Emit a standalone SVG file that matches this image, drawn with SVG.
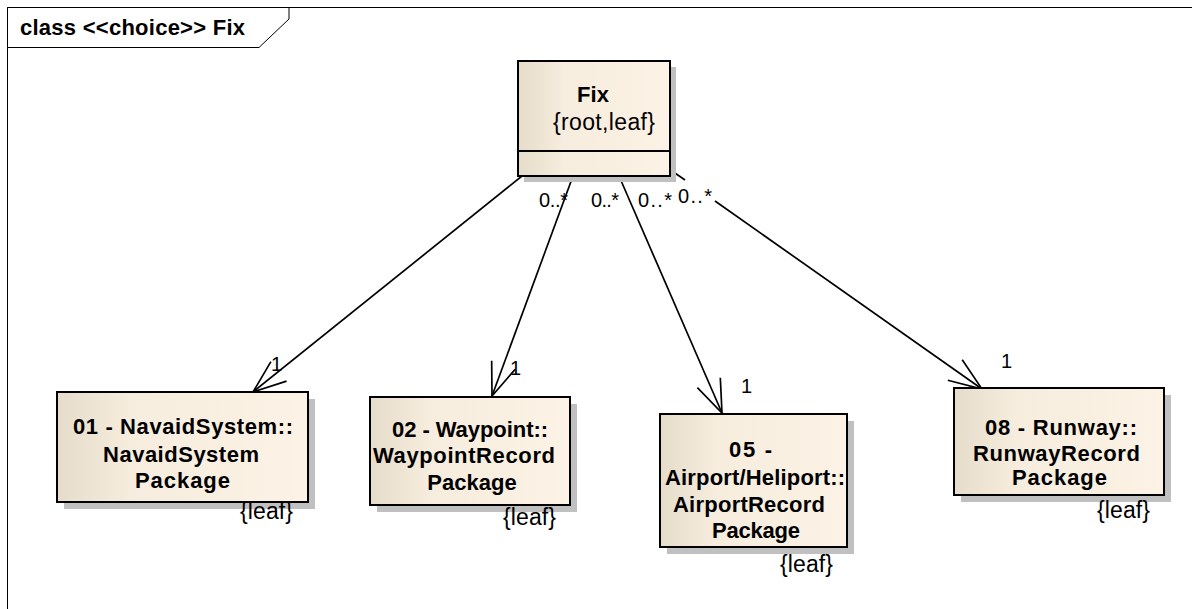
<svg xmlns="http://www.w3.org/2000/svg" width="1192" height="609" viewBox="0 0 1192 609">
  <defs>
    <linearGradient id="classFill" x1="0" y1="0" x2="1" y2="0">
      <stop offset="0" stop-color="#E6DCCA"/>
      <stop offset="0.3" stop-color="#F6EDDE"/>
      <stop offset="1" stop-color="#FCF2E5"/>
    </linearGradient>
    <marker id="openArrow" markerUnits="userSpaceOnUse" orient="auto" refX="0" refY="0"
            viewBox="-40 -20 45 40" markerWidth="45" markerHeight="40" overflow="visible">
      <path d="M-33,-12.5 L0,0 L-33,12.5" fill="none" stroke="#000" stroke-width="1.7"/>
    </marker>
  </defs>
  <style>
    .frame { fill: none; stroke: #000; stroke-width: 1; }
    .tab { fill: #fff; stroke: #000; stroke-width: 1; }
    .shadow { fill: #C0C0C0; }
    .box { fill: url(#classFill); stroke: #000; stroke-width: 2; }
    .divider { stroke: #000; stroke-width: 2; }
    .title { font: bold 22px "Liberation Sans", Arial, sans-serif; fill: #000; }
    .name { font: bold 22px "Liberation Sans", Arial, sans-serif; text-anchor: middle; fill: #000; }
    .tag { font: 23px "Liberation Sans", Arial, sans-serif; fill: #000; }
    .mult { font: 20px "Liberation Sans", Arial, sans-serif; fill: #000; }
    .edge { fill: none; stroke: #000; stroke-width: 1.7; }
    .arrow { marker-end: url(#openArrow); }
  </style>

  <rect x="0" y="0" width="1192" height="609" fill="#fff"/>

  <!-- diagram frame and name tab -->
  <g id="frame">
    <rect class="frame" x="7.5" y="7.5" width="1200" height="620"/>
    <path class="tab" d="M7.5,7.5 H289 V19 L259,47.5 H7.5 Z"/>
    <text class="title" x="20" y="35" textLength="225" lengthAdjust="spacing">class &lt;&lt;choice&gt;&gt; Fix</text>
  </g>

  <!-- associations from Fix -->
  <g id="connectors">
    <path class="edge arrow" d="M522,176 L253,392"/>
    <path class="edge arrow" d="M573,176 L492,396"/>
    <path class="edge arrow" d="M619,176 L722,413"/>
    <path class="edge" d="M672,171 L685,180"/>
    <path class="edge arrow" d="M715,201 L982,389"/>

    <text class="mult" x="539" y="207" textLength="29" lengthAdjust="spacing">0..*</text>
    <text class="mult" x="591" y="207" textLength="28" lengthAdjust="spacing">0..*</text>
    <text class="mult" x="638" y="207" textLength="34" lengthAdjust="spacing">0..*</text>
    <text class="mult" x="678" y="203" textLength="34" lengthAdjust="spacing">0..*</text>

    <text class="mult" x="271" y="371">1</text>
    <text class="mult" x="510" y="375">1</text>
    <text class="mult" x="741" y="393">1</text>
    <text class="mult" x="1001" y="368">1</text>
  </g>

  <g id="fix">
    <rect class="shadow" x="524" y="67" width="152" height="115"/>
    <rect class="box" x="518" y="61" width="152" height="115"/>
    <line class="divider" x1="518" y1="151" x2="670" y2="151"/>
    <text class="name" x="593" y="102">Fix</text>
    <text class="tag" x="553" y="130" textLength="102" lengthAdjust="spacing">{root,leaf}</text>
  </g>

  <g id="navaid-system">
    <rect class="shadow" x="64" y="399" width="251" height="110"/>
    <rect class="box" x="57" y="392" width="251" height="110"/>
    <text class="name" x="183" y="434" textLength="220" lengthAdjust="spacing">01 - NavaidSystem::</text>
    <text class="name" x="181" y="462" textLength="156" lengthAdjust="spacing">NavaidSystem</text>
    <text class="name" x="182.5" y="488" textLength="95" lengthAdjust="spacing">Package</text>
    <text class="tag" x="240" y="519" textLength="53" lengthAdjust="spacing">{leaf}</text>
  </g>

  <g id="waypoint">
    <rect class="shadow" x="377" y="404" width="200" height="108"/>
    <rect class="box" x="370" y="397" width="200" height="108"/>
    <text class="name" x="470" y="437" textLength="156" lengthAdjust="spacing">02 - Waypoint::</text>
    <text class="name" x="464" y="463" textLength="182" lengthAdjust="spacing">WaypointRecord</text>
    <text class="name" x="472" y="490">Package</text>
    <text class="tag" x="503" y="525" textLength="53" lengthAdjust="spacing">{leaf}</text>
  </g>

  <g id="airport-heliport">
    <rect class="shadow" x="667" y="421" width="187" height="133"/>
    <rect class="box" x="660" y="414" width="187" height="133"/>
    <text class="name" x="750.5" y="457" textLength="43" lengthAdjust="spacing">05 -</text>
    <text class="name" x="755" y="485" textLength="180" lengthAdjust="spacing">Airport/Heliport::</text>
    <text class="name" x="749" y="512" textLength="152" lengthAdjust="spacing">AirportRecord</text>
    <text class="name" x="756" y="538" textLength="88" lengthAdjust="spacing">Package</text>
    <text class="tag" x="780" y="572" textLength="53" lengthAdjust="spacing">{leaf}</text>
  </g>

  <g id="runway">
    <rect class="shadow" x="961" y="395" width="210" height="107"/>
    <rect class="box" x="954" y="388" width="210" height="107"/>
    <text class="name" x="1061" y="435" textLength="152" lengthAdjust="spacing">08 - Runway::</text>
    <text class="name" x="1056.5" y="461" textLength="167" lengthAdjust="spacing">RunwayRecord</text>
    <text class="name" x="1059.5" y="485" textLength="95" lengthAdjust="spacing">Package</text>
    <text class="tag" x="1097" y="518" textLength="53" lengthAdjust="spacing">{leaf}</text>
  </g>
</svg>
